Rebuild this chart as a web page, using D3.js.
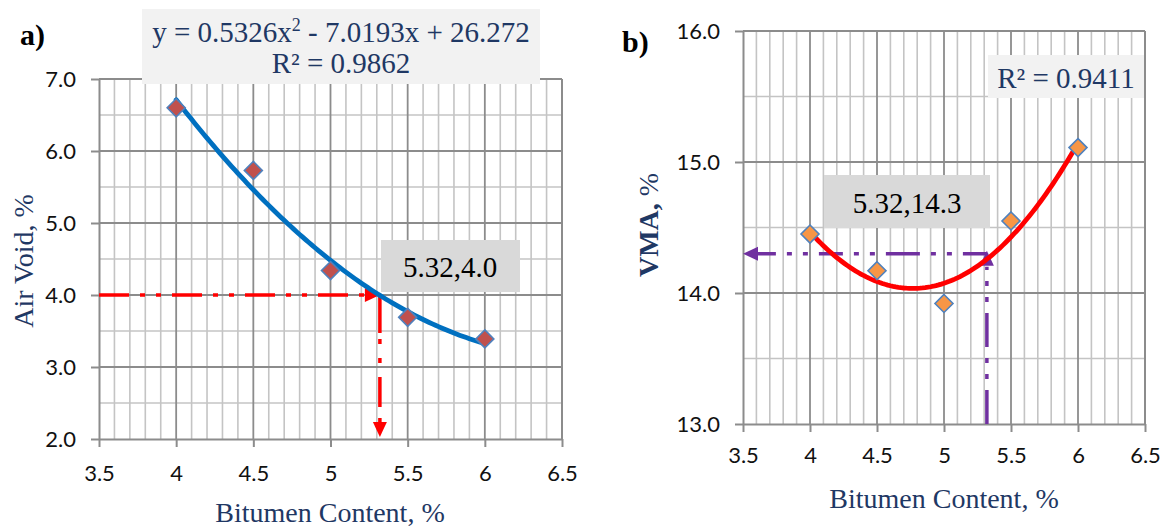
<!DOCTYPE html>
<html>
<head>
<meta charset="utf-8">
<script src="https://cdn.jsdelivr.net/npm/d3@7/dist/d3.min.js"></script>
<style>
  html, body { margin: 0; padding: 0; background: #fff; }
  svg { display: block; }
</style>
</head>
<body>
<svg id="chart" width="1167" height="527"></svg>
<script>
// ---------------- DATA ----------------
const bitumenContent = [4, 4.5, 5, 5.5, 6];
const airVoid = [6.60, 5.73, 4.34, 3.69, 3.39];
const vma = [14.45, 14.17, 13.92, 14.55, 15.11];
const xTickValues = [3.5, 4, 4.5, 5, 5.5, 6, 6.5];
const xTickLabels = ["3.5", "4", "4.5", "5", "5.5", "6", "6.5"];
const avTickValues = [2, 3, 4, 5, 6, 7];
const avTickLabels = ["2.0", "3.0", "4.0", "5.0", "6.0", "7.0"];
const vmaTickValues = [13, 14, 15, 16];
const vmaTickLabels = ["13.0", "14.0", "15.0", "16.0"];
const optimumBitumen = 5.32;
const targetAirVoid = 4.0;
const targetVMA = 14.3;
const avEquationText = "y = 0.5326x";
const avEquationRest = " - 7.0193x + 26.272";
const avR2Text = "R² = 0.9862";
const vmaR2Text = "R² = 0.9411";
const avPointLabel = "5.32,4.0";
const vmaPointLabel = "5.32,14.3";

// ---------------- HELPERS ----------------
function polyfit2(xs, ys) {
  // least squares quadratic: y = a x^2 + b x + c
  let S = [0,0,0,0,0], T = [0,0,0];
  xs.forEach((x, i) => {
    for (let k = 0; k < 5; k++) S[k] += Math.pow(x, k);
    for (let k = 0; k < 3; k++) T[k] += Math.pow(x, k) * ys[i];
  });
  const M = [[S[4], S[3], S[2], T[2]], [S[3], S[2], S[1], T[1]], [S[2], S[1], S[0], T[0]]];
  for (let i = 0; i < 3; i++) {
    for (let j = i + 1; j < 3; j++) {
      const f = M[j][i] / M[i][i];
      for (let k = i; k < 4; k++) M[j][k] -= f * M[i][k];
    }
  }
  const r = [0,0,0];
  for (let i = 2; i >= 0; i--) {
    let s = M[i][3];
    for (let k = i + 1; k < 3; k++) s -= M[i][k] * r[k];
    r[i] = s / M[i][i];
  }
  return r; // [a, b, c]
}

const svg = d3.select("#chart");
const NAVY = "#1f3864";
const SERIF = "'Liberation Serif', 'Times New Roman', serif";
const SANS = "Lato, 'Open Sans', sans-serif";

function drawPanel(cfg) {
  const g = svg.append("g");
  const x = d3.scaleLinear().domain([3.5, 6.5]).range(cfg.xRange);
  const y = d3.scaleLinear().domain(cfg.yDomain).range(cfg.yRange);

  // minor vertical gridlines every 0.1
  const minorX = d3.range(35, 66, 1).map(v => v / 10).filter(v => Math.abs(v * 2 - Math.round(v * 2)) > 1e-6);
  g.append("g").selectAll("line").data(minorX).join("line")
    .attr("x1", d => x(d)).attr("x2", d => x(d))
    .attr("y1", y.range()[0]).attr("y2", y.range()[1])
    .attr("stroke", "#c4c4c4").attr("stroke-width", 1.6);
  // minor horizontal gridlines at half units
  const minorY = d3.range(cfg.yDomain[0] * 2, cfg.yDomain[1] * 2 + 1).map(v => v / 2).filter(v => v % 1 !== 0);
  g.append("g").selectAll("line").data(minorY).join("line")
    .attr("x1", x.range()[0]).attr("x2", x.range()[1])
    .attr("y1", d => y(d)).attr("y2", d => y(d))
    .attr("stroke", "#c4c4c4").attr("stroke-width", 1.6);
  // major gridlines
  g.append("g").selectAll("line").data(xTickValues.slice(1)).join("line")
    .attr("x1", d => x(d)).attr("x2", d => x(d))
    .attr("y1", y.range()[0]).attr("y2", y.range()[1])
    .attr("stroke", "#8c8c8c").attr("stroke-width", 1.8);
  g.append("g").selectAll("line").data(cfg.yTicks.slice(1)).join("line")
    .attr("x1", x.range()[0]).attr("x2", x.range()[1])
    .attr("y1", d => y(d)).attr("y2", d => y(d))
    .attr("stroke", "#8c8c8c").attr("stroke-width", 1.8);

  // axes
  const xAxis = d3.axisBottom(x).tickValues(xTickValues)
    .tickFormat((d, i) => xTickLabels[i]).tickSize(8).tickSizeOuter(0);
  const yAxis = d3.axisLeft(y).tickValues(cfg.yTicks)
    .tickFormat((d, i) => cfg.yLabels[i]).tickSize(8).tickSizeOuter(0);
  const gx = g.append("g").attr("transform", `translate(0,${y.range()[0]})`).call(xAxis);
  const gy = g.append("g").attr("transform", `translate(${x.range()[0]},0)`).call(yAxis);
  [gx, gy].forEach(a => {
    a.select(".domain").attr("stroke", "#8c8c8c").attr("stroke-width", 2);
    a.selectAll(".tick line").attr("stroke", "#8c8c8c").attr("stroke-width", 2);
    a.selectAll("text").attr("font-family", SANS).attr("font-size", 22).attr("fill", "#111");
  });
  gx.selectAll("text").attr("dy", null).attr("y", cfg.xLabelOffset);
  gy.selectAll("text").attr("x", -cfg.yLabelGap).attr("dy", "0.36em");

  // right/top border (plot frame)
  g.append("line").attr("x1", x.range()[1]).attr("x2", x.range()[1])
    .attr("y1", y.range()[0]).attr("y2", y.range()[1]).attr("stroke", "#8c8c8c").attr("stroke-width", 2);
  g.append("line").attr("x1", x.range()[0]).attr("x2", x.range()[1])
    .attr("y1", y.range()[1]).attr("y2", y.range()[1]).attr("stroke", "#8c8c8c").attr("stroke-width", 2);

  // annotation dash lines with arrows
  const dash = "30,11,5,11,5,11";
  const ax = x(optimumBitumen), ay = y(cfg.target);
  const L = 15, W = 7, SW = 3.5;
  if (cfg.mode === "av") {
    g.append("line").attr("x1", x(3.5)).attr("x2", ax - L + 2).attr("y1", ay).attr("y2", ay)
      .attr("stroke", cfg.guideColor).attr("stroke-width", SW).attr("stroke-dasharray", dash);
    g.append("path").attr("d", `M${ax},${ay} L${ax - L},${ay - W} L${ax - L},${ay + W} Z`).attr("fill", cfg.guideColor);
    const yb = y(cfg.yDomain[0]) - 2;
    g.append("line").attr("x1", ax).attr("x2", ax).attr("y1", ay).attr("y2", yb - L + 2)
      .attr("stroke", cfg.guideColor).attr("stroke-width", SW).attr("stroke-dasharray", "38,6,5,14,5,14,30,11,5,11,5,11");
    g.append("path").attr("d", `M${ax},${yb} L${ax - W},${yb - L} L${ax + W},${yb - L} Z`).attr("fill", cfg.guideColor);
  } else {
    const xl = x(3.5);
    g.append("line").attr("x1", ax).attr("x2", xl + L - 2).attr("y1", ay).attr("y2", ay)
      .attr("stroke", cfg.guideColor).attr("stroke-width", SW).attr("stroke-dasharray", "24,11,5,11,5,11,34,11,5,11,5,11");
    g.append("path").attr("d", `M${xl},${ay} L${xl + L},${ay - W} L${xl + L},${ay + W} Z`).attr("fill", cfg.guideColor);
    const yb = y(cfg.yDomain[0]);
    g.append("line").attr("x1", ax).attr("x2", ax).attr("y1", yb).attr("y2", ay + L - 2)
      .attr("stroke", cfg.guideColor).attr("stroke-width", SW).attr("stroke-dasharray", "34,11,5,11,5,11");
    g.append("path").attr("d", `M${ax},${ay - 3} L${ax - W},${ay + L - 3} L${ax + W},${ay + L - 3} Z`).attr("fill", cfg.guideColor);
  }

  // trendline (least-squares quadratic fit of the points)
  const [a, b, c] = polyfit2(bitumenContent, cfg.values);
  const xs = d3.range(4, 6.0001, 0.02);
  g.append("path").datum(xs)
    .attr("d", d3.line().x(d => x(d)).y(d => y(a * d * d + b * d + c)).curve(d3.curveLinear))
    .attr("fill", "none").attr("stroke", cfg.trendColor).attr("stroke-width", 4.8)
    .attr("stroke-linecap", "round");

  // markers (diamonds)
  g.append("g").selectAll("path").data(bitumenContent).join("path")
    .attr("d", (d, i) => {
      const cx = x(d), cy = y(cfg.values[i]), r = 9;
      return `M${cx},${cy - r} L${cx + r},${cy} L${cx},${cy + r} L${cx - r},${cy} Z`;
    })
    .attr("fill", cfg.markerFill).attr("stroke", "#4f81bd").attr("stroke-width", 1.6);

  return { g, x, y };
}

// ---------------- PANEL A ----------------
const A = drawPanel({
  mode: "av",
  xRange: [99, 562], yDomain: [2, 7], yRange: [439, 79],
  yTicks: avTickValues, yLabels: avTickLabels,
  xLabelOffset: 42, yLabelGap: 23,
  values: airVoid, target: targetAirVoid,
  trendColor: "#0070c0", markerFill: "#c0504d", guideColor: "#ff0000"
});

// equation box
svg.append("rect").attr("x", 142).attr("y", 9).attr("width", 398).attr("height", 75).attr("fill", "#f2f2f2");
const eq = svg.append("text").attr("x", 341).attr("y", 42).attr("text-anchor", "middle")
  .attr("font-family", SERIF).attr("font-size", 29).attr("fill", NAVY);
eq.append("tspan").text(avEquationText);
eq.append("tspan").attr("font-size", 18).attr("dy", -11).text("2");
eq.append("tspan").attr("dy", 11).text(avEquationRest);
svg.append("text").attr("x", 341).attr("y", 73).attr("text-anchor", "middle")
  .attr("font-family", SERIF).attr("font-size", 29).attr("fill", NAVY).text(avR2Text);

// point label box
svg.append("rect").attr("x", 381).attr("y", 240).attr("width", 139).attr("height", 52).attr("fill", "#d9d9d9");
svg.append("text").attr("x", 450).attr("y", 277).attr("text-anchor", "middle")
  .attr("font-family", SERIF).attr("font-size", 29).attr("fill", "#000").text(avPointLabel);

// axis titles
svg.append("text").attr("x", 330).attr("y", 522).attr("text-anchor", "middle")
  .attr("font-family", SERIF).attr("font-size", 28).attr("fill", NAVY).text("Bitumen Content, %");
svg.append("text").attr("transform", "translate(33,261) rotate(-90)").attr("text-anchor", "middle")
  .attr("font-family", SERIF).attr("font-size", 28).attr("fill", NAVY).text("Air Void, %");
svg.append("text").attr("x", 20).attr("y", 45).attr("font-family", SERIF).attr("font-size", 30)
  .attr("font-weight", "bold").attr("fill", "#000").text("a)");

// ---------------- PANEL B ----------------
const B = drawPanel({
  mode: "vma",
  xRange: [743, 1145], yDomain: [13, 16], yRange: [424, 31],
  yTicks: vmaTickValues, yLabels: vmaTickLabels,
  xLabelOffset: 39, yLabelGap: 23,
  values: vma, target: targetVMA,
  trendColor: "#ff0000", markerFill: "#f79646", guideColor: "#7030a0"
});

svg.append("rect").attr("x", 988).attr("y", 55).attr("width", 156).attr("height", 43).attr("fill", "#f2f2f2");
svg.append("text").attr("x", 1066).attr("y", 88).attr("text-anchor", "middle")
  .attr("font-family", SERIF).attr("font-size", 29).attr("fill", NAVY).text(vmaR2Text);

svg.append("rect").attr("x", 824).attr("y", 175).attr("width", 166).attr("height", 53).attr("fill", "#d9d9d9");
svg.append("text").attr("x", 907).attr("y", 213).attr("text-anchor", "middle")
  .attr("font-family", SERIF).attr("font-size", 29).attr("fill", "#000").text(vmaPointLabel);

svg.append("text").attr("x", 944).attr("y", 508).attr("text-anchor", "middle")
  .attr("font-family", SERIF).attr("font-size", 28).attr("fill", NAVY).text("Bitumen Content, %");
const vt = svg.append("text").attr("transform", "translate(658,225) rotate(-90)").attr("text-anchor", "middle")
  .attr("font-family", SERIF).attr("font-size", 28).attr("fill", NAVY);
vt.append("tspan").attr("font-weight", "bold").text("VMA,");
vt.append("tspan").text(" %");
svg.append("text").attr("x", 622).attr("y", 52).attr("font-family", SERIF).attr("font-size", 30)
  .attr("font-weight", "bold").attr("fill", "#000").text("b)");
</script>
</body>
</html>
